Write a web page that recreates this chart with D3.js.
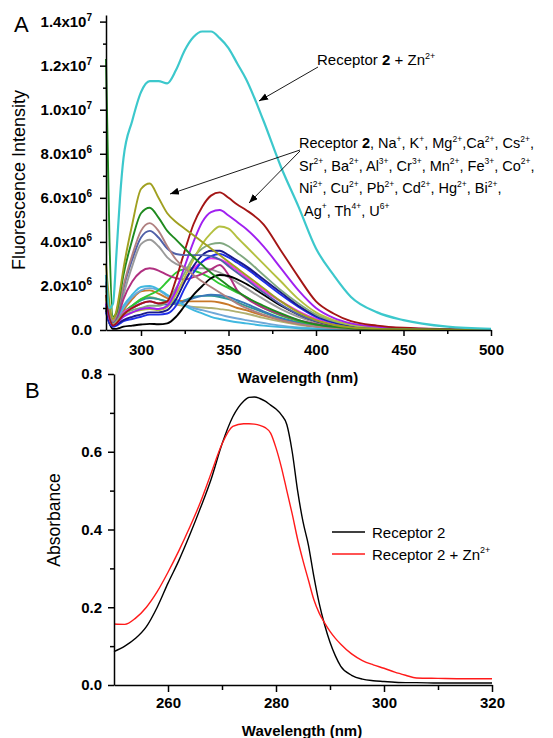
<!DOCTYPE html>
<html><head><meta charset="utf-8">
<script src="https://cdn.jsdelivr.net/npm/d3@7"></script>
<style>body{margin:0;background:#fff}</style>
</head><body><svg id="c" width="553" height="738"></svg>
<script>
// ---------- Panel A data (fluorescence, units of 10^6) ----------
const wavelengthsA = [280,282,284,286,288,290,295,300,305,310,315,320,325,330,335,340,345,350,355,360,370,380,390,400,410,420,435,450,475,500];
const znSeries     = [2.5,1.0,1.2,3.5,6.0,7.8,9.5,10.8,11.3,11.3,11.2,11.8,12.7,13.3,13.55,13.55,13.25,12.8,12.1,11.4,9.5,7.4,5.6,3.7,2.5,1.5,0.8,0.45,0.15,0.05];
const darkRed      = [1.6,0.6,0.2,0.3,0.5,0.7,1.0,1.2,1.3,1.2,1.3,2.3,3.6,4.8,5.6,6.1,6.25,6.0,5.7,5.45,4.8,3.6,2.4,1.3,0.75,0.4,0.2,0.1,0.04,0.02];
const purple       = [1.2,0.5,0.2,0.3,0.45,0.6,0.8,0.95,1.0,0.95,1.1,1.8,2.9,4.0,4.9,5.35,5.45,5.2,4.9,4.6,3.8,2.8,1.8,1.0,0.55,0.3,0.15,0.08,0.03,0.01];
const yellowGreen  = [1.4,0.5,0.25,0.35,0.5,0.65,0.8,0.9,0.95,0.9,1.05,1.6,2.4,3.2,3.9,4.4,4.7,4.6,4.2,3.8,3.0,2.2,1.4,0.8,0.45,0.25,0.12,0.06,0.02,0.01];
const grayGreen    = [1.8,0.7,0.3,0.4,0.6,0.75,0.9,1.0,1.1,1.1,1.3,1.9,2.6,3.3,3.7,3.9,3.95,3.8,3.5,3.2,2.5,1.8,1.2,0.7,0.4,0.22,0.1,0.05,0.02,0.01];
const navy         = [1.0,0.4,0.2,0.25,0.35,0.45,0.6,0.7,0.8,0.8,0.9,1.4,2.2,2.9,3.4,3.6,3.6,3.4,3.15,2.9,2.3,1.7,1.1,0.65,0.37,0.2,0.1,0.05,0.02,0.01];
const blue         = [0.8,0.3,0.15,0.2,0.3,0.4,0.5,0.6,0.7,0.7,0.75,1.1,1.9,2.6,3.1,3.35,3.45,3.3,3.05,2.8,2.2,1.6,1.05,0.6,0.34,0.18,0.09,0.04,0.02,0.01];
const magenta      = [1.3,0.5,0.25,0.35,0.6,0.8,1.0,1.2,1.3,1.2,1.25,1.7,2.3,2.8,3.1,3.25,3.2,3.0,2.7,2.4,1.8,1.3,0.85,0.5,0.28,0.15,0.07,0.03,0.01,0.01];
const plum         = [2.2,0.8,0.3,0.5,0.9,1.4,2.2,2.65,2.8,2.7,2.5,2.35,2.3,2.4,2.55,2.75,2.95,2.5,1.8,1.45,1.0,0.7,0.45,0.28,0.16,0.09,0.04,0.02,0.01,0.01];
const blackA       = [0.9,0.3,0.05,0.05,0.1,0.15,0.2,0.25,0.28,0.26,0.3,0.6,1.1,1.6,2.0,2.35,2.5,2.45,2.3,2.1,1.6,1.1,0.7,0.4,0.22,0.12,0.05,0.03,0.01,0.0];
const olive        = [3.0,1.2,0.5,0.9,1.8,2.8,4.8,6.4,6.65,6.0,5.3,4.9,4.6,4.3,4.0,3.7,3.4,3.1,2.8,2.5,1.9,1.3,0.8,0.45,0.24,0.12,0.05,0.02,0.01,0.0];
const darkGreen    = [12.3,4.0,0.6,0.8,1.6,2.5,4.1,5.3,5.55,5.1,4.5,4.1,3.7,3.3,2.95,2.6,2.3,2.0,1.75,1.5,1.1,0.75,0.45,0.25,0.14,0.08,0.04,0.02,0.01,0.0];
const rosy         = [2.5,1.0,0.4,0.7,1.3,2.0,3.4,4.5,4.85,4.5,3.8,3.2,2.8,2.5,2.2,1.95,1.7,1.45,1.2,1.0,0.7,0.45,0.28,0.16,0.09,0.05,0.02,0.01,0.0,0.0];
const slate        = [2.2,0.9,0.35,0.6,1.2,1.9,3.2,4.2,4.5,4.2,3.7,3.45,3.4,3.4,3.4,3.35,3.2,2.9,2.6,2.3,1.7,1.15,0.7,0.4,0.22,0.12,0.05,0.02,0.01,0.0];
const gray         = [2.0,0.8,0.3,0.5,1.0,1.6,2.9,3.9,4.1,3.8,3.3,3.0,2.85,2.8,2.8,2.75,2.6,2.4,2.15,1.9,1.4,0.95,0.6,0.35,0.2,0.11,0.05,0.02,0.01,0.0];
const brightGreen  = [1.6,0.6,0.3,0.4,0.6,0.8,1.1,1.4,1.6,1.8,2.2,2.6,2.75,2.7,2.55,2.35,2.1,1.9,1.7,1.5,1.0,0.65,0.4,0.22,0.12,0.07,0.03,0.01,0.0,0.0];
const orange       = [1.4,0.5,0.2,0.35,0.6,0.9,1.4,1.75,1.8,1.65,1.45,1.35,1.3,1.3,1.3,1.3,1.25,1.15,1.0,0.9,0.65,0.45,0.28,0.16,0.09,0.05,0.02,0.01,0.0,0.0];
const sky          = [2.0,0.8,0.3,0.45,0.8,1.1,1.6,1.95,2.0,1.85,1.6,1.35,1.1,0.9,0.75,0.6,0.5,0.42,0.35,0.3,0.2,0.13,0.08,0.05,0.03,0.02,0.01,0.0,0.0,0.0];
const steel        = [1.2,0.5,0.2,0.3,0.5,0.7,1.0,1.2,1.3,1.2,1.15,1.2,1.3,1.45,1.55,1.6,1.58,1.5,1.35,1.2,0.85,0.55,0.35,0.2,0.11,0.06,0.03,0.01,0.0,0.0];
const lightOlive   = [1.0,0.4,0.2,0.3,0.5,0.7,1.1,1.4,1.5,1.4,1.25,1.15,1.1,1.05,1.02,1.0,0.95,0.9,0.82,0.75,0.55,0.38,0.24,0.14,0.08,0.04,0.02,0.01,0.0,0.0];
const lightBlue    = [1.6,0.6,0.25,0.4,0.7,1.0,1.5,1.8,1.9,1.8,1.55,1.3,1.15,1.0,0.9,0.8,0.7,0.6,0.52,0.45,0.32,0.2,0.12,0.07,0.04,0.02,0.01,0.0,0.0,0.0];
const teal         = [1.1,0.45,0.2,0.3,0.5,0.75,1.1,1.35,1.45,1.4,1.3,1.25,1.35,1.5,1.55,1.55,1.5,1.4,1.25,1.1,0.8,0.5,0.3,0.17,0.1,0.05,0.02,0.01,0.0,0.0];

const seriesA = [
  {name:"s1", color:"#9a9a9a", values:gray},
  {name:"s2", color:"#b0b070", values:lightOlive},
  {name:"s3", color:"#309898", values:teal},
  {name:"s4", color:"#c87828", values:orange},
  {name:"s5", color:"#3a78b8", values:steel},
  {name:"s6", color:"#70a8d8", values:lightBlue},
  {name:"s7", color:"#40b8e0", values:sky},
  {name:"s8", color:"#30c830", values:brightGreen},
  {name:"s9", color:"#b03080", values:plum},
  {name:"s10", color:"#f030e8", values:magenta},
  {name:"s11", color:"#000000", values:blackA},
  {name:"s12", color:"#1e2ee8", values:blue},
  {name:"s13", color:"#1a1a8c", values:navy},
  {name:"s14", color:"#80a880", values:grayGreen},
  {name:"s15", color:"#b4c040", values:yellowGreen},
  {name:"s16", color:"#a020f0", values:purple},
  {name:"s17", color:"#a31515", values:darkRed},
  {name:"s18", color:"#5060a8", values:slate},
  {name:"s19", color:"#b08080", values:rosy},
  {name:"s20", color:"#1f8a1f", values:darkGreen},
  {name:"s21", color:"#a0a020", values:olive},
  {name:"Zn", color:"#3cc8cc", values:znSeries}
];
const yTicksA = [0,2,4,6,8,10,12,14];
const yMinorA = [1,3,5,7,9,11,13];
const xTicksA = [300,350,400,450,500];
const xMinorA = [325,375,425,475];

// ---------- Panel B data (absorbance) ----------
const wavelengthsB = [250,252,254,256,258,260,262,264,266,268,270,272,274,275,276,277,278,279,280,281,282,283,284,285,286,287,288,289,290,291,292,294,296,298,300,302,304,306,310,315,320];
const receptor2   = [0.086,0.1,0.12,0.15,0.2,0.262,0.32,0.385,0.455,0.53,0.62,0.69,0.73,0.74,0.741,0.737,0.73,0.72,0.71,0.695,0.67,0.6,0.5,0.42,0.36,0.28,0.21,0.155,0.11,0.075,0.048,0.025,0.015,0.011,0.009,0.007,0.006,0.006,0.005,0.005,0.005];
const receptor2Zn = [0.157,0.156,0.172,0.2,0.24,0.29,0.345,0.405,0.47,0.545,0.62,0.665,0.672,0.672,0.671,0.668,0.662,0.648,0.61,0.56,0.5,0.44,0.375,0.32,0.27,0.22,0.185,0.16,0.138,0.12,0.105,0.08,0.063,0.052,0.043,0.033,0.025,0.018,0.017,0.016,0.016];
const yTicksB = [0,0.2,0.4,0.6,0.8];
const yMinorB = [0.1,0.3,0.5,0.7];
const xTicksB = [260,280,300,320];
const xMinorB = [270,290,310];

// ---------- drawing ----------
const FONT = "'Liberation Sans', Arial, sans-serif";
const svg = d3.select("#c").attr("font-family", FONT);
svg.append("rect").attr("width",553).attr("height",738).attr("fill","#fff");

svg.append("defs").append("marker").attr("id","arr")
  .attr("markerUnits","userSpaceOnUse").attr("markerWidth",10).attr("markerHeight",8)
  .attr("refX",9).attr("refY",3.5).attr("orient","auto")
  .append("path").attr("d","M0,0 L9,3.5 L0,7 Z").attr("fill","#000");

function rich(sel, str, size, supSize) {
  const parts = str.split(/(\*\*[^*]+\*\*|\^\{[^}]+\})/).filter(s => s.length);
  let raised = false;
  parts.forEach(p => {
    const t = sel.append("tspan");
    if (p.startsWith("^{")) {
      t.text(p.slice(2,-1)).attr("font-size", supSize).attr("dy", -0.42*size);
      raised = true;
    } else {
      if (p.startsWith("**")) t.text(p.slice(2,-2)).attr("font-weight","bold");
      else t.text(p);
      if (raised) { t.attr("dy", 0.42*size); raised = false; }
    }
  });
}

function styleAxis(g) {
  g.selectAll("path,line").attr("stroke","#000").attr("stroke-width",1.5);
  g.attr("font-family", FONT);
}

// ===== Panel A =====
const xA = d3.scaleLinear().domain([280,500]).range([106,491]);
const yA = d3.scaleLinear().domain([0,14.3]).range([330,15]);
const lineA = d3.line().x((d,i)=>xA(wavelengthsA[i])).y(d=>yA(d)).curve(d3.curveMonotoneX);

const gA = svg.append("g");
gA.selectAll("path.s").data(seriesA).join("path").attr("class","s")
  .attr("d", d => lineA(d.values)).attr("fill","none")
  .attr("stroke", d => d.color).attr("stroke-width", d => d.name==="Zn" ? 2.2 : 1.9)
  .attr("stroke-linejoin","round");

// axes A
const gxA = svg.append("g").attr("transform","translate(0,330)")
  .call(d3.axisBottom(xA).tickValues(xTicksA).tickSize(6).tickSizeOuter(0).tickPadding(8));
svg.append("g").attr("transform","translate(0,330)")
  .call(d3.axisBottom(xA).tickValues(xMinorA).tickSize(4).tickFormat("")).call(g=>g.select(".domain").remove()).call(styleAxis);
gxA.call(styleAxis);
gxA.selectAll("text").attr("font-size",15).attr("font-weight","bold").attr("fill","#000");

const gyA = svg.append("g").attr("transform","translate(106,0)")
  .call(d3.axisLeft(yA).tickValues(yTicksA).tickSize(6).tickSizeOuter(0).tickPadding(8));
svg.append("g").attr("transform","translate(106,0)")
  .call(d3.axisLeft(yA).tickValues(yMinorA).tickSize(3).tickFormat("")).call(g=>g.select(".domain").remove()).call(styleAxis);
gyA.call(styleAxis);
gyA.selectAll("text").each(function(v){
  const t = d3.select(this).text("").attr("font-size",15).attr("font-weight","bold").attr("fill","#000");
  if (v === 0) { t.text("0.0"); return; }
  const exp = v >= 10 ? 7 : 6;
  const m = v / Math.pow(10, exp-6);
  rich(t, m.toFixed(1) + "x10^{" + exp + "}", 15, 10);
});

svg.append("text").attr("x",298).attr("y",383).attr("text-anchor","middle")
  .attr("font-size",15).attr("font-weight","bold").text("Wavelength (nm)");
svg.append("text").attr("transform","translate(25,180) rotate(-90)").attr("text-anchor","middle")
  .attr("font-size",18).text("Fluorescence Intensity");
svg.append("text").attr("x",14).attr("y",32).attr("font-size",22).text("A");

// annotations A
const ann1 = svg.append("text").attr("x",317).attr("y",65).attr("font-size",15);
rich(ann1, "Receptor **2** + Zn^{2+}", 15, 9);
svg.append("line").attr("x1",318).attr("y1",67).attr("x2",259).attr("y2",101)
  .attr("stroke","#000").attr("stroke-width",0.9).attr("marker-end","url(#arr)");

const annLines = [
  {x:299, y:148, s:"Receptor **2**, Na^{+}, K^{+}, Mg^{2+},Ca^{2+}, Cs^{2+},"},
  {x:299, y:170.5, s:"Sr^{2+}, Ba^{2+}, Al^{3+}, Cr^{3+}, Mn^{2+}, Fe^{3+}, Co^{2+},"},
  {x:299, y:193, s:"Ni^{2+}, Cu^{2+}, Pb^{2+}, Cd^{2+}, Hg^{2+}, Bi^{2+},"},
  {x:304, y:215.5, s:"Ag^{+}, Th^{4+}, U^{6+}"}
];
annLines.forEach(l => {
  const t = svg.append("text").attr("x",l.x).attr("y",l.y).attr("font-size",14.5);
  rich(t, l.s, 14.5, 8.5);
});
svg.append("line").attr("x1",300).attr("y1",150).attr("x2",170).attr("y2",194)
  .attr("stroke","#000").attr("stroke-width",0.9).attr("marker-end","url(#arr)");
svg.append("line").attr("x1",300).attr("y1",151).attr("x2",249).attr("y2",203)
  .attr("stroke","#000").attr("stroke-width",0.9).attr("marker-end","url(#arr)");

// ===== Panel B =====
const xB = d3.scaleLinear().domain([250,320]).range([114,492]);
const yB = d3.scaleLinear().domain([0,0.8]).range([685,374]);
const lineB = d3.line().x((d,i)=>xB(wavelengthsB[i])).y(d=>yB(d)).curve(d3.curveMonotoneX);

const seriesB = [
  {name:"Receptor **2**", label:"Receptor 2", color:"#000000", values:receptor2},
  {name:"Receptor 2 + Zn", label:"Receptor 2 + Zn^{2+}", color:"#ff1a1a", values:receptor2Zn}
];
svg.append("g").selectAll("path").data(seriesB).join("path")
  .attr("d", d => lineB(d.values)).attr("fill","none")
  .attr("stroke", d => d.color).attr("stroke-width",1.4);

const gxB = svg.append("g").attr("transform","translate(0,685)")
  .call(d3.axisBottom(xB).tickValues(xTicksB).tickSize(7).tickSizeOuter(0).tickPadding(5));
svg.append("g").attr("transform","translate(0,685)")
  .call(d3.axisBottom(xB).tickValues(xMinorB).tickSize(5).tickFormat("")).call(g=>g.select(".domain").remove()).call(styleAxis);
gxB.call(styleAxis);
gxB.selectAll("text").attr("font-size",15).attr("font-weight","bold").attr("fill","#000");

const gyB = svg.append("g").attr("transform","translate(114,0)")
  .call(d3.axisLeft(yB).tickValues(yTicksB).tickSize(6).tickSizeOuter(0).tickPadding(6).tickFormat(d3.format(".1f")));
svg.append("g").attr("transform","translate(114,0)")
  .call(d3.axisLeft(yB).tickValues(yMinorB).tickSize(4).tickFormat("")).call(g=>g.select(".domain").remove()).call(styleAxis);
gyB.call(styleAxis);
gyB.selectAll("text").attr("font-size",15).attr("font-weight","bold").attr("fill","#000");

svg.append("text").attr("x",302).attr("y",736).attr("text-anchor","middle")
  .attr("font-size",15).attr("font-weight","bold").text("Wavelength (nm)");
svg.append("text").attr("transform","translate(60,520) rotate(-90)").attr("text-anchor","middle")
  .attr("font-size",17.5).text("Absorbance");
svg.append("text").attr("x",25).attr("y",398).attr("font-size",22).text("B");

// legend B
const leg = svg.append("g");
seriesB.forEach((s,i) => {
  const y = 532 + i*22;
  leg.append("line").attr("x1",332).attr("x2",365).attr("y1",y).attr("y2",y)
    .attr("stroke", s.color).attr("stroke-width",1.4);
  const t = leg.append("text").attr("x",372).attr("y",y+5.5).attr("font-size",15);
  rich(t, s.label, 15, 9);
});
</script></body></html>
